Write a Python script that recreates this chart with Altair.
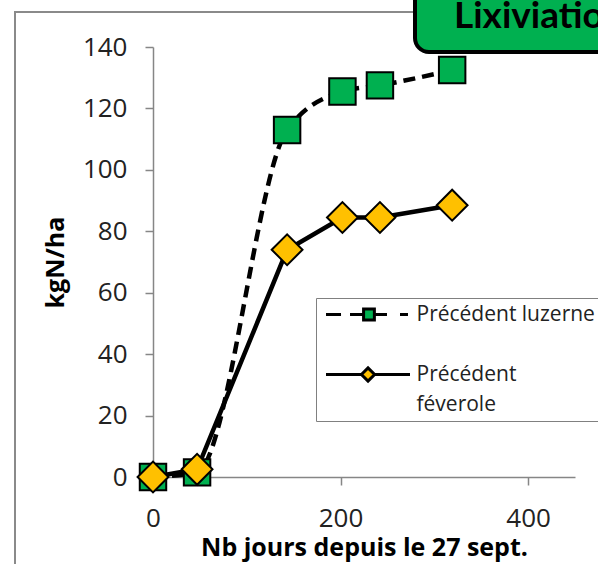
import altair as alt
import pandas as pd

# ---- data ----
days = [0, 47, 143, 202, 242, 319]
luzerne = [0, 1.5, 113, 125.5, 127.5, 132.5]
feverole = [0, 2.5, 74, 84.5, 84.5, 88.5]
series_names = ["Précédent luzerne", "Précédent féverole"]
x_ticks = [0, 200, 400]
y_ticks = [0, 20, 40, 60, 80, 100, 120, 140]
box_title = "Lixiviation"
x_title = "Nb jours depuis le 27 sept."
y_title = "kgN/ha"

rows = [{"jours": d, "kgN": v, "serie": series_names[0]} for d, v in zip(days, luzerne)]
rows += [{"jours": d, "kgN": v, "serie": series_names[1]} for d, v in zip(days, feverole)]
df = pd.DataFrame(rows)

FONT = "Open Sans"
GREEN = "#00B050"
YELLOW = "#FFC000"
AXIS_GRAY = "#868686"
FRAME_GRAY = "#8a8a8a"

x_scale = alt.Scale(domain=[0, 450], nice=False, zero=False)
y_scale = alt.Scale(domain=[0, 140], nice=False)

x_enc = alt.X("jours:Q", scale=x_scale, axis=alt.Axis(
    values=x_ticks, grid=False, domainColor=AXIS_GRAY, domainWidth=1.5,
    tickColor=AXIS_GRAY, tickWidth=1.5, tickSize=8, labelFlush=False,
    labelFont=FONT, labelFontSize=26, labelColor="#222", labelPadding=20,
    title=x_title, titleFont=FONT, titleFontSize=25, titleFontWeight="bold",
    titleColor="#000", titlePadding=4))
y_enc = alt.Y("kgN:Q", scale=y_scale, axis=alt.Axis(
    values=y_ticks, grid=False, domainColor=AXIS_GRAY, domainWidth=1.5,
    tickColor=AXIS_GRAY, tickWidth=1.5, tickSize=8,
    labelFont=FONT, labelFontSize=26, labelColor="#222", labelPadding=18,
    title=y_title, titleFont=FONT, titleFontSize=25, titleFontWeight="bold",
    titleColor="#000", titlePadding=14))

base = alt.Chart(df)
is_luz = f"datum.serie == '{series_names[0]}'"
is_fev = f"datum.serie == '{series_names[1]}'"

line_luz = base.transform_filter(is_luz).mark_line(
    color="black", strokeWidth=4.5, strokeDash=[12, 7], interpolate="monotone"
).encode(x=x_enc, y=y_enc)
line_fev = base.transform_filter(is_fev).mark_line(
    color="black", strokeWidth=4.5
).encode(x=x_enc, y=y_enc)
pts_luz = base.transform_filter(is_luz).mark_point(
    shape="square", size=700, filled=True, fill=GREEN, stroke="black", strokeWidth=2, opacity=1
).encode(x=x_enc, y=y_enc)
pts_fev = base.transform_filter(is_fev).mark_point(
    shape="diamond", size=950, filled=True, fill=YELLOW, stroke="black", strokeWidth=2, opacity=1
).encode(x=x_enc, y=y_enc)

# legend symbols: line sample + marker drawn as custom symbol paths
sym_luz = ("M-0.33,0H2.17M3.67,0H5.93M7.73,0H9.83M12,0H13.33"
           "M5.93,-0.9H7.73V0.9H5.93Z")
sym_fev = ("M-0.33,0H5.57M7.77,0H13.67"
           "M5.57,0L6.67,-1.1L7.77,0L6.67,1.1Z")
nb = "\u00a0" * 20
label_expr = (f"datum.label == '{series_names[1]}' ? ['Précédent', 'féverole'] "
              f": datum.label + '{nb}'")

legend = alt.Legend(
    orient="none", legendX=163, legendY=251, direction="vertical", title=None,
    padding=6, rowPadding=35, strokeColor="#808080", fillColor="white",
    symbolSize=144, symbolStrokeColor="black", symbolStrokeWidth=3,
    symbolOffset=-4.5, symbolOpacity=1, labelOffset=78, labelFont=FONT,
    labelFontSize=21, labelColor="#222", labelLimit=800, labelExpr=label_expr)

dom = alt.Scale(domain=series_names, range=[sym_luz, sym_fev])
legend_layer = base.transform_filter("datum.jours < 0").mark_point(
    filled=True, strokeWidth=3, opacity=1
).encode(
    x=x_enc, y=y_enc,
    shape=alt.Shape("serie:N", scale=dom, legend=legend),
    fill=alt.Fill("serie:N", scale=alt.Scale(domain=series_names, range=[GREEN, YELLOW]), legend=legend),
    stroke=alt.Stroke("serie:N", scale=alt.Scale(domain=series_names, range=["black", "black"]), legend=legend),
)

one = alt.Data(values=[{}])
# outer frame of the original figure, drawn as thin filled bars
frame_v = alt.Chart(one).mark_rect(fill=FRAME_GRAY, strokeWidth=0).encode(
    x=alt.value(-139), x2=alt.value(-137), y=alt.value(-36), y2=alt.value(700))
frame_h = alt.Chart(one).mark_rect(fill=FRAME_GRAY, strokeWidth=0).encode(
    x=alt.value(-139), x2=alt.value(300), y=alt.value(-36), y2=alt.value(-34))
title_box = alt.Chart(one).mark_rect(
    fill=GREEN, stroke="black", strokeWidth=4, cornerRadius=14
).encode(x=alt.value(262), x2=alt.value(700), y=alt.value(-100), y2=alt.value(5))
title_text = alt.Chart(one).mark_text(
    text=box_title, font="Lato", fontSize=37, fontWeight="bold", color="black",
    align="left", baseline="alphabetic"
).encode(x=alt.value(301), y=alt.value(-19))

chart = alt.layer(
    frame_v, frame_h, line_luz, line_fev, pts_luz, pts_fev, legend_layer, title_box, title_text
).properties(
    width=422, height=430,
    autosize=alt.AutoSizeParams(type="none"),
    padding={"left": 153, "top": 47, "right": 23, "bottom": 87},
).configure(
    view=alt.ViewConfig(stroke=None),
    style={"guide-label": {"lineHeight": 30}},
)

chart.save("out.html", embed_options={"renderer": "svg", "actions": False})
